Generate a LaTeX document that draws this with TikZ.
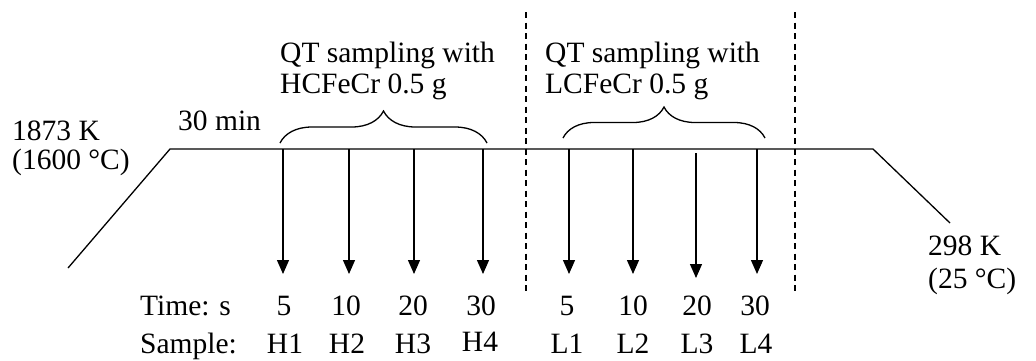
\documentclass[tikz,border=0pt]{standalone}
\usepackage{fontspec}
\setmainfont{Liberation Serif}
\usetikzlibrary{arrows.meta,decorations.pathreplacing}
\tikzset{
  lbl/.style={inner sep=0pt, anchor=base west, font=\fontsize{29.5}{35}\selectfont},
  num/.style={inner sep=0pt, anchor=base, font=\fontsize{29.5}{35}\selectfont},
  profile/.style={line width=1.3pt},
  drop/.style={line width=1.3pt, -{Triangle[width=12pt,length=14pt]}},
  sep/.style={line width=2pt, dash pattern=on 6pt off 4.5pt},
  grp/.style={line width=1.3pt, decorate, decoration={brace, amplitude=#1}}
}
\begin{document}
\begin{tikzpicture}[x=1pt,y=-1pt]
\useasboundingbox (0,0) rectangle (1036,360);

% temperature profile: heat-up, hold, cool-down
\coordinate (p0) at (68,268);
\coordinate (p1) at (170,149);
\coordinate (p2) at (873,149);
\coordinate (p3) at (950,223);
\draw[profile] (p0) -- (p1) -- (p2) -- (p3);

% temperature labels
\node[lbl] (tk1) at (12,140) {1873 K};
\node[lbl] (tc1) at (12,169) {(1600 °C)};
\node[lbl] (hold) at (178,130) {30 min};
\node[lbl] (tk2) at (928,255) {298 K};
\node[lbl] (tc2) at (928,288) {(25 °C)};

% group captions
\node[lbl] (hc1) at (280,62) {QT sampling with};
\node[lbl] (hc2) at (280,93) {HCFeCr 0.5 g};
\node[lbl] (lc1) at (545,62) {QT sampling with};
\node[lbl] (lc2) at (545,93) {LCFeCr 0.5 g};

% braces over each sampling group
\draw[grp=32pt] (280,143) -- (487,143);
\draw[grp=31pt] (563,138) -- (765,138);

% separators
\coordinate (s1a) at (526,12);
\coordinate (s1b) at (526,293);
\coordinate (s2a) at (795,12);
\coordinate (s2b) at (795,293);
\draw[sep] (s1a) -- (s1b);
\draw[sep] (s2a) -- (s2b);

% row headers
\node[lbl] (time) at (140,315) {Time: s};
\node[lbl] (samp) at (140,353) {Sample:};

% sampling times and sample names
\node[num] (t1) at (284,315) {5};
\node[num] (t2) at (346,315) {10};
\node[num] (t3) at (413,315) {20};
\node[num] (t4) at (481,315) {30};
\node[num] (t5) at (567,315) {5};
\node[num] (t6) at (633,315) {10};
\node[num] (t7) at (697,315) {20};
\node[num] (t8) at (755,315) {30};

\node[num] (n1) at (285,353) {H1};
\node[num] (n2) at (347,353) {H2};
\node[num] (n3) at (413,353) {H3};
\node[num] (n4) at (480,351) {H4};
\node[num] (n5) at (567,353) {L1};
\node[num] (n6) at (633,353) {L2};
\node[num] (n7) at (697,353) {L3};
\node[num] (n8) at (756,353) {L4};

% quench drops
\foreach \i/\x/\ya/\yb in {1/283/149/274, 2/349/149/274, 3/414/149/274, 4/483/149/274,
                           5/569/149/274, 6/633/149/274, 7/696/153/278, 8/757/149/274} {
  \coordinate (a\i) at (\x,\ya);
  \coordinate (b\i) at (\x,\yb);
  \draw[drop] (a\i) -- (b\i);
}
\end{tikzpicture}
\end{document}
